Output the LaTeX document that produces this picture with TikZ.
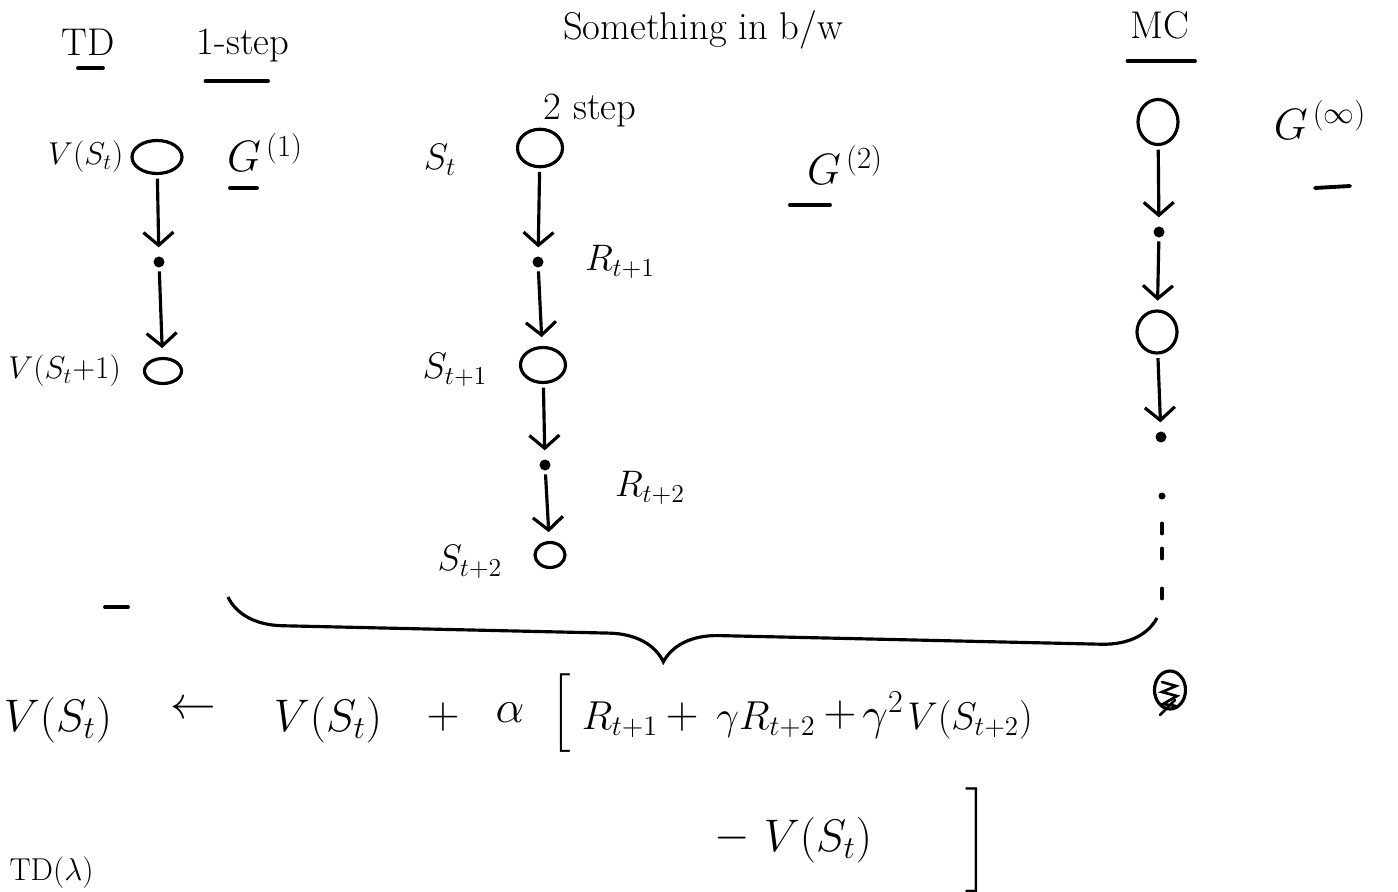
\RequirePackage{fix-cm}
\documentclass[tikz,border=0pt]{standalone}
\usepackage{fontspec}
\usepackage{amsmath}
\usetikzlibrary{arrows.meta, calc, positioning, shapes.geometric, decorations.pathreplacing}
\tikzset{
  state/.style ={draw, ellipse, line width=1.8pt, inner sep=0pt, minimum width=8mm, minimum height=6.5mm},
  evt/.style   ={circle, fill, inner sep=0pt, minimum size=2.2mm},
  flow/.style  ={-{Straight Barb[length=2.6mm, width=6mm]}, line width=1.8pt, shorten <=2pt, shorten >=5pt},
  uline/.style ={line width=2.2pt, line cap=round},
  lbl/.style   ={font=\fontsize{18}{20}\selectfont, inner sep=1pt},
  slbl/.style  ={font=\fontsize{21}{24}\selectfont, inner sep=1pt},
  ttl/.style   ={font=\fontsize{22}{26}\selectfont, inner sep=1pt},
  gret/.style  ={font=\fontsize{25}{28}\selectfont, inner sep=1pt},
  eqn/.style   ={font=\fontsize{26}{30}\selectfont, inner sep=1pt},
}
\begin{document}
\begin{tikzpicture}
  \useasboundingbox (0,0) rectangle (27.96,-17.84);
  % headings
  \node[ttl] (td)   at (1.76,-0.84)  {TD};
  \node[ttl] (one)  at (4.86,-0.90)  {1-step};
  \node[ttl] (btw)  at (14.06,-0.60) {Something in b/w};
  \node[ttl] (two)  at (11.80,-2.20) {2 step};
  \node[ttl] (mc)   at (23.20,-0.50) {MC};
  \draw[uline] ($(td.south)+(-0.2,-0.22)$) -- ++(0.5,0);
  \draw[uline] ($(one.south)+(-0.75,-0.35)$) -- ++(1.25,0);
  \draw[uline] ($(mc.south)+(-0.65,-0.40)$) -- ++(1.35,0);
  % 1-step TD
  \node[state, minimum width=10mm, minimum height=6.6mm] (s1) at (3.14,-3.14) {};
  \node[evt]   (d1) at (3.18,-5.24) {};
  \node[state, minimum width=7.4mm, minimum height=5mm] (s2) at (3.26,-7.42) {};
  \node[lbl, left=0.1cm of s1] {$V(S_t)$};
  \node[lbl, left=0.4cm of s2] {$V(S_t{+}1)$};
  \draw[flow] (s1) -- (d1);
  \draw[flow] (d1) -- (s2);
  \node[gret] (g1) at (5.3,-3.05) {$G^{\,(1)}$};
  \draw[uline] (4.6,-3.76) -- (5.14,-3.76);
  % 2-step
  \node[state, minimum width=9mm, minimum height=7.5mm] (t1) at (10.80,-2.96) {};
  \node[evt]   (e1) at (10.76,-5.24) {};
  \node[state, minimum width=9mm, minimum height=7mm]   (t2) at (10.86,-7.30) {};
  \node[evt]   (e2) at (10.90,-9.30) {};
  \node[state, minimum width=6mm, minimum height=5mm]   (t3) at (11.00,-11.10) {};
  \node[slbl] at (8.80,-3.20)  {$S_t$};
  \node[slbl] at (9.10,-7.40)  {$S_{t+1}$};
  \node[slbl] at (9.40,-11.24) {$S_{t+2}$};
  \node[slbl] at (12.40,-5.24) {$R_{t+1}$};
  \node[slbl] at (13.00,-9.76) {$R_{t+2}$};
  \draw[flow] (t1) -- (e1);
  \draw[flow] (e1) -- (t2);
  \draw[flow] (t2) -- (e2);
  \draw[flow] (e2) -- (t3);
  \node[gret] (g2) at (16.9,-3.3) {$G^{\,(2)}$};
  \draw[uline] (15.8,-4.1) -- (16.6,-4.1);
  % MC
  \node[state, minimum width=8mm, minimum height=9mm]   (m1) at (23.16,-2.44) {};
  \node[evt]   (f1) at (23.18,-4.64) {};
  \node[state, minimum width=8mm, minimum height=8.4mm] (m2) at (23.14,-6.64) {};
  \node[evt]   (f2) at (23.22,-8.74) {};
  \node[evt, minimum size=1.4mm] (f3) at (23.24,-9.92) {};
  \draw[flow] (m1) -- (f1);
  \draw[flow] (f1) -- (m2);
  \draw[flow] (m2) -- (f2);
  \foreach \dy in {0.55,1.05,1.85}
    \draw[uline] ([yshift=-\dy cm]f3.center) -- ++(0,-0.2);
  \node[gret] (ginf) at (26.4,-2.4) {$G^{\,(\infty)}$};
  \draw[uline] (26.3,-3.76) -- (27.0,-3.72);
  % brace over all three
  \draw[uline] (2.1,-12.14) -- (2.56,-12.14);
  \coordinate (bl) at (4.56,-11.94);
  \coordinate (br) at (23.14,-12.36);
  \draw[line width=1.8pt, decorate, decoration={brace, mirror, amplitude=1.1cm, aspect=0.47}] (bl) -- (br);
  \node[draw, ellipse, line width=1.8pt, minimum width=6.2mm, minimum height=7.6mm] (erased) at (23.40,-13.80) {};
  \draw[line width=1.5pt, line cap=round] ($(erased.center)+(-0.16,0.16)$) -- ++(0.28,-0.08) -- ++(-0.28,-0.12)
    -- ++(0.3,-0.08) -- ++(-0.28,-0.16) -- ++(0.26,-0.04);
  \draw[line width=1.5pt, line cap=round] ($(erased.center)+(0.1,-0.2)$) -- ++(-0.3,-0.3);
  % update rule
  \node[eqn] (lhs)  at (1.16,-14.40)  {$V(S_t)$};
  \node[eqn] (gets) at (3.86,-14.20)  {$\leftarrow$};
  \node[eqn] (old)  at (6.56,-14.40)  {$V(S_t)$};
  \node[eqn] (pl1)  at (8.86,-14.34)  {$+$};
  \node[eqn] (alp)  at (10.20,-14.26) {$\alpha$};
  \node[eqn] (lbr)  at (11.22,-14.26) {$\Big[$};
  \node[eqn, font=\fontsize{23}{26}\selectfont] (r1) at (12.40,-14.40) {$R_{t+1}$};
  \node[eqn] (pl2)  at (13.64,-14.34) {$+$};
  \node[eqn, font=\fontsize{23}{26}\selectfont] (r2) at (15.32,-14.40) {$\gamma R_{t+2}$};
  \node[eqn] (pl3)  at (16.80,-14.30) {$+$};
  \node[eqn] (gam)  at (17.66,-14.30) {$\gamma^2$};
  \node[eqn, font=\fontsize{22}{26}\selectfont] (vnx) at (19.40,-14.40) {$V(S_{t+2})$};
  \node[eqn] (mns)  at (14.64,-16.76) {$-$};
  \node[eqn] (vcur) at (16.36,-16.80) {$V(S_t)$};
  \node[eqn] (rbr)  at (19.54,-16.80) {$\bigg]$};
  \node[lbl, anchor=south west] (tdl) at (0.15,-17.82) {TD($\lambda$)};
\end{tikzpicture}
\end{document}
